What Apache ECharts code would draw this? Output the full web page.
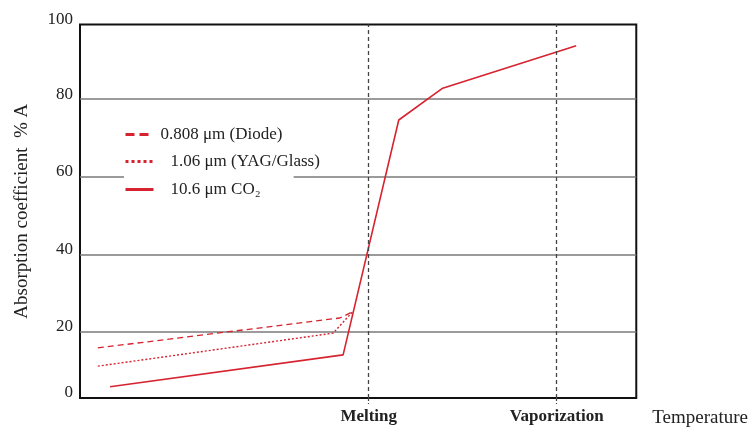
<!DOCTYPE html>
<html>
<head>
<meta charset="utf-8">
<script src="https://cdn.jsdelivr.net/npm/echarts@6/dist/echarts.min.js"></script>
<style>
  html, body { margin: 0; padding: 0; background: #fff; }
  #chart { width: 751px; height: 429px; }
</style>
</head>
<body>
<div id="chart"></div>
<script>
// Absorption of laser light by metal vs. temperature, for three wavelengths.
// Temperature axis is schematic (arbitrary units); phase changes marked.

const diodeX = [3.2, 46.7, 49.0];
const diodeY = [15.9, 23.6, 25.2];

const yagX = [3.2, 45.5, 49.0];
const yagY = [11.2, 19.7, 25.2];

const co2X = [5.4, 47.3, 57.3, 65.2, 89.2];
const co2Y = [5.9, 14.1, 74.6, 82.8, 93.7];

const phaseX = [51.9, 85.7];
const phaseNames = ['Melting', 'Vaporization'];

// Value axis extent and its labelled positions
const yMin = 3;
const yMax = 99.2;
const yLabelValues = [3, 20, 40, 60, 80, 99.2];
const yLabelTexts = ['0', '20', '40', '60', '80', '100'];

const seriesNames = ['0.808 \u03bcm (Diode)', '1.06 \u03bcm (YAG/Glass)', '10.6 \u03bcm CO\u2082'];

const RED = '#d6232f';
const SERIF = "'Liberation Serif', 'Times New Roman', serif";

function pairs(xs, ys) { return xs.map((x, i) => [x, ys[i]]); }

const chart = echarts.init(document.getElementById('chart'), null, { renderer: 'canvas' });

const legendBase = {
  orient: 'vertical',
  itemWidth: 28,
  itemHeight: 14,
  itemGap: 0,
  padding: 0,
  itemStyle: { opacity: 0 },
  textStyle: { fontFamily: SERIF, fontSize: 17, color: '#222' },
  selectedMode: false
};

chart.setOption({
  animation: false,
  backgroundColor: '#fff',
  grid: {
    left: 80, right: 114, top: 24.5, bottom: 31,
    show: true, borderColor: '#111', borderWidth: 2, backgroundColor: 'transparent',
    containLabel: false
  },
  legend: [
    Object.assign({}, legendBase, {
      data: [seriesNames[0]], left: 124, top: 126,
      lineStyle: { width: 3, type: [9, 5] },
      textStyle: Object.assign({}, legendBase.textStyle, { padding: [0, 0, 0, 2] })
    }),
    Object.assign({}, legendBase, {
      data: [seriesNames[1]], left: 124, top: 153,
      lineStyle: { width: 3, type: [3, 3] },
      textStyle: Object.assign({}, legendBase.textStyle, { padding: [0, 0, 0, 12] })
    }),
    Object.assign({}, legendBase, {
      data: [seriesNames[2]], left: 124, top: 173,
      padding: [8, 33, 2, 0],
      backgroundColor: '#fff',
      lineStyle: { width: 3 },
      textStyle: Object.assign({}, legendBase.textStyle, { padding: [0, 0, 0, 12] })
    })
  ],
  xAxis: {
    type: 'value',
    min: 0, max: 100,
    name: 'Temperature',
    nameLocation: 'end',
    nameGap: 16,
    nameTextStyle: { fontFamily: SERIF, fontSize: 19, color: '#222', align: 'left', verticalAlign: 'top', padding: [11, 0, 0, 0] },
    axisLine: { show: false },
    splitLine: { show: false },
    axisTick: {
      show: true, customValues: phaseX, length: 6, inside: false,
      lineStyle: { color: '#444', width: 1.2, type: [3, 2] }
    },
    axisLabel: {
      customValues: phaseX,
      margin: 10,
      fontFamily: SERIF, fontSize: 17, fontWeight: 'bold', color: '#222',
      formatter: v => {
        const i = phaseX.findIndex(p => Math.abs(p - v) < 1e-6);
        return i >= 0 ? phaseNames[i] : '';
      }
    }
  },
  yAxis: {
    type: 'value',
    min: yMin, max: yMax,
    name: 'Absorption coefficient  % A',
    nameLocation: 'middle',
    nameGap: 48,
    nameTextStyle: { fontFamily: SERIF, fontSize: 19, color: '#222' },
    axisLine: { show: false },
    axisTick: { show: false },
    splitLine: {
      show: true, showMinLine: false, showMaxLine: false,
      lineStyle: { color: '#7a7a7a', width: 1.5 }
    },
    axisLabel: {
      customValues: yLabelValues,
      margin: 7,
      verticalAlign: 'bottom',
      lineHeight: 10,
      fontFamily: SERIF, fontSize: 17, color: '#222',
      formatter: v => {
        const i = yLabelValues.findIndex(p => Math.abs(p - v) < 1e-6);
        return i >= 0 ? yLabelTexts[i] : '';
      }
    }
  },
  series: [
    {
      name: seriesNames[0], type: 'line', data: pairs(diodeX, diodeY),
      symbol: 'none', z: 3,
      lineStyle: { color: RED, width: 1.3, type: [6, 4] },
      itemStyle: { color: RED }
    },
    {
      name: seriesNames[1], type: 'line', data: pairs(yagX, yagY),
      symbol: 'none', z: 3,
      lineStyle: { color: RED, width: 1.4, type: [2, 2] },
      itemStyle: { color: RED }
    },
    {
      name: seriesNames[2], type: 'line', data: pairs(co2X, co2Y),
      symbol: 'none', z: 3,
      lineStyle: { color: RED, width: 1.6 },
      itemStyle: { color: RED },
      markLine: {
        silent: true, symbol: 'none',
        label: { show: false },
        lineStyle: { color: '#444', width: 1.3, type: [4, 3] },
        data: phaseX.map(x => ({ xAxis: x }))
      }
    }
  ]
});
</script>
</body>
</html>
